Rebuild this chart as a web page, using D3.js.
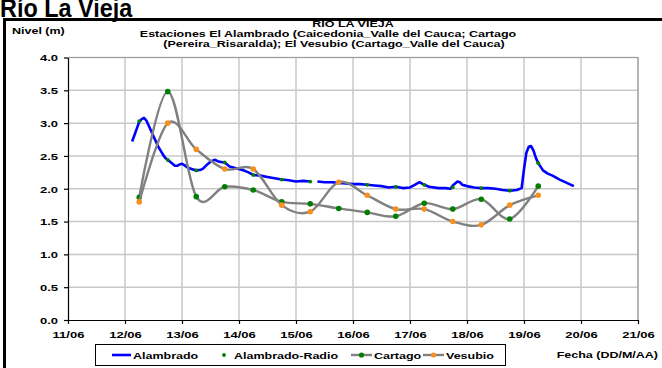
<!DOCTYPE html>
<html><head><meta charset="utf-8">
<script src="https://cdn.jsdelivr.net/npm/d3@7"></script>
<style>
body{margin:0;background:#fff}
svg{display:block}
text{font-family:"Liberation Sans",Arial,sans-serif;font-weight:bold;fill:#000}
</style>
</head><body>
<svg id="c" width="662" height="368"></svg>
<script>
// ---------- data ----------
const xTickLabels = ["11/06","12/06","13/06","14/06","15/06","16/06","17/06","18/06","19/06","20/06","21/06"];
const yTickValues = [0,0.5,1,1.5,2,2.5,3,3.5,4];
const titleLines = ["RIO LA VIEJA","Estaciones El Alambrado (Caicedonia_Valle del Cauca; Cartago","(Pereira_Risaralda);  El Vesubio (Cartago_Valle del Cauca)"];
const seriesNames = ["Alambrado","Alambrado-Radio","Cartago","Vesubio"];

const radioTimes = ["12/06 06:00","12/06 18:00","13/06 06:00","13/06 18:00","14/06 06:00","14/06 18:00","15/06 06:00","15/06 18:00","16/06 06:00","16/06 18:00","17/06 06:00","17/06 18:00","18/06 06:00","18/06 18:00","19/06 06:00"];
const alambradoRadio = [3.03,2.44,2.28,2.40,2.21,2.14,2.11,2.09,2.06,2.03,2.06,2.02,2.01,1.97,2.39];
const cartago = [1.87,3.48,1.88,2.03,1.98,1.80,1.77,1.70,1.64,1.58,1.78,1.69,1.84,1.54,2.04];
const vesubio = [1.80,3.00,2.60,2.30,2.30,1.75,1.65,2.10,1.90,1.69,1.69,1.50,1.45,1.75,1.90];

const alambradoTimes = ["12/06 03:00","12/06 04:00","12/06 05:00","12/06 06:00","12/06 07:00","12/06 08:00","12/06 09:00","12/06 10:00","12/06 11:00","12/06 12:00","12/06 13:00","12/06 14:00","12/06 15:00","12/06 16:00","12/06 17:00","12/06 18:00","12/06 19:00","12/06 20:00","12/06 21:00","12/06 22:00","12/06 23:00",
"13/06 00:00","13/06 01:00","13/06 02:00","13/06 04:00","13/06 06:00","13/06 08:00","13/06 09:00","13/06 10:00","13/06 11:00","13/06 12:00","13/06 13:00","13/06 14:00","13/06 15:00","13/06 16:00","13/06 18:00","13/06 19:00","13/06 20:00","13/06 22:00",
"14/06 00:00","14/06 02:00","14/06 04:00","14/06 06:00","14/06 09:00","14/06 12:00","14/06 15:00","14/06 18:00","14/06 21:00",
"15/06 00:00","15/06 03:00","15/06 06:00","15/06 07:30","15/06 09:00","15/06 12:00","15/06 15:00","15/06 18:00","15/06 21:00",
"16/06 00:00","16/06 03:00","16/06 06:00","16/06 09:00","16/06 12:00","16/06 15:00","16/06 18:00","16/06 21:00",
"17/06 00:00","17/06 02:00","17/06 04:00","17/06 06:00","17/06 08:00","17/06 12:00","17/06 15:00","17/06 17:00","17/06 18:00","17/06 20:00","17/06 21:00","17/06 22:00",
"18/06 00:00","18/06 03:00","18/06 06:00","18/06 09:00","18/06 12:00","18/06 15:00","18/06 18:00","18/06 21:00","18/06 23:00",
"19/06 00:00","19/06 01:00","19/06 02:00","19/06 03:00","19/06 04:00","19/06 05:00","19/06 06:00","19/06 08:00","19/06 10:00","19/06 12:00","19/06 15:00","19/06 18:00","19/06 21:00"];
const alambrado = [2.72,2.82,2.92,3.02,3.06,3.08,3.04,2.96,2.88,2.80,2.72,2.64,2.58,2.52,2.47,2.44,2.41,2.38,2.35,2.35,2.37,
2.38,2.36,2.33,2.30,2.28,2.29,2.31,2.35,2.38,2.41,2.43,2.44,2.42,2.41,2.40,2.37,2.34,2.32,
2.30,2.28,2.25,2.21,2.20,2.18,2.16,2.14,2.13,
2.11,2.12,2.11,null,2.11,2.10,2.10,2.09,2.08,
2.07,2.07,2.06,2.05,2.04,2.02,2.03,2.01,
2.02,2.06,2.10,2.06,2.03,2.01,2.01,2.00,2.05,2.11,2.10,2.06,
2.04,2.02,2.01,2.01,2.00,1.98,1.97,1.98,2.01,
2.30,2.55,2.64,2.65,2.58,2.47,2.39,2.28,2.23,2.20,2.14,2.09,2.04];

// ---------- chart ----------
const svg = d3.select("#c");
const parse = d3.timeParse("%d/%m %H:%M");
const SX = 1.33; // horizontal text stretch of the original picture
const FONT = 9.4;

const x = d3.scaleTime().domain([parse("11/06 00:00"), parse("21/06 00:00")]).range([68, 638]);
const y = d3.scaleLinear().domain([0, 4]).range([320, 57.5]);

function txt(px, py, s, anchor, size) {
  return svg.append("text")
    .attr("transform", `translate(${px},${py}) scale(${SX},1)`)
    .attr("text-anchor", anchor || "start")
    .style("font-size", (size || FONT) + "px")
    .text(s);
}

// outer frame
svg.append("rect").attr("x", 4.5).attr("y", 19.5).attr("width", 662).attr("height", 360)
  .attr("fill", "none").attr("stroke", "#000").attr("stroke-width", 3);

// big title (its top is cut by the picture edge, as in the original)
svg.append("text").attr("transform", "translate(0,17) scale(0.9,1)").style("font-size", "26px").text("Río La Vieja");

// chart title
const titleX = [353, 328, 334];
titleLines.forEach((t, i) => txt(titleX[i], 27 + i * 9.8, t, "middle"));
txt(12, 34, "Nivel (m)", "start");

// grid
const dayTicks = d3.range(11, 22).map(d => parse(String(d).padStart(2, "0") + "/06 00:00"));
svg.append("g").selectAll("line").data(dayTicks.slice(1)).join("line")
  .attr("x1", d => x(d)).attr("x2", d => x(d)).attr("y1", y(4)).attr("y2", y(0))
  .attr("stroke", "#c8c8c8").attr("stroke-width", 1.5);
svg.append("g").selectAll("line").data(yTickValues.slice(1)).join("line")
  .attr("x1", x.range()[0]).attr("x2", x.range()[1]).attr("y1", d => y(d)).attr("y2", d => y(d))
  .attr("stroke", "#c8c8c8").attr("stroke-width", 1.5);

// axes
const xAxis = svg.append("g").attr("transform", `translate(0,${y(0)})`)
  .call(d3.axisBottom(x).tickValues(dayTicks).tickFormat((d, i) => xTickLabels[i]).tickSize(4).tickSizeOuter(0));
const yAxis = svg.append("g").attr("transform", `translate(${x.range()[0]},0)`)
  .call(d3.axisLeft(y).tickValues(yTickValues).tickFormat(d3.format(".1f")).tickSize(4).tickSizeOuter(0));
[xAxis, yAxis].forEach(a => {
  a.select(".domain").attr("stroke", "#000").attr("stroke-width", 1.2);
  a.selectAll(".tick line").attr("stroke", "#000").attr("stroke-width", 1.2);
  a.selectAll(".tick text").attr("fill", "#000").style("font-family", '"Liberation Sans",Arial,sans-serif')
    .style("font-weight", "bold").style("font-size", "9.8px");
});
xAxis.selectAll(".tick text").attr("y", 0).attr("dy", 0)
  .attr("transform", `translate(0,18) scale(${SX},1)`);
yAxis.selectAll(".tick text").attr("x", 0).attr("dy", "0.34em")
  .attr("transform", `translate(-10,0) scale(${SX},1)`);

// series
const radioData = radioTimes.map((t, i) => ({t: parse(t), a: alambradoRadio[i], c: cartago[i], v: vesubio[i]}));
const alamData = alambradoTimes.map((t, i) => ({t: parse(t), v: alambrado[i]}));

svg.append("path").datum(alamData)
  .attr("d", d3.line().defined(d => d.v != null).x(d => x(d.t)).y(d => y(d.v)))
  .attr("fill", "none").attr("stroke", "#0000ff").attr("stroke-width", 2.6).attr("stroke-linejoin", "round");

svg.append("g").selectAll("circle").data(radioData).join("circle")
  .attr("cx", d => x(d.t)).attr("cy", d => y(d.a)).attr("r", 1.9).attr("fill", "#008000");

const smooth = d3.line().curve(d3.curveCatmullRom.alpha(0)).x(d => x(d.t));
const GREEN = "#008000", ORANGE = "#f7901e", GRAY = "#808080";

svg.append("path").attr("d", smooth.y(d => y(d.c))(radioData))
  .attr("fill", "none").attr("stroke", GRAY).attr("stroke-width", 2.4);
svg.append("g").selectAll("circle").data(radioData).join("circle")
  .attr("cx", d => x(d.t)).attr("cy", d => y(d.c)).attr("r", 2.8).attr("fill", GREEN);

svg.append("path").attr("d", smooth.y(d => y(d.v))(radioData))
  .attr("fill", "none").attr("stroke", GRAY).attr("stroke-width", 2.4);
svg.append("g").selectAll("circle").data(radioData).join("circle")
  .attr("cx", d => x(d.t)).attr("cy", d => y(d.v)).attr("r", 2.8).attr("fill", ORANGE);

// plot border (top/right)
svg.append("path").attr("d", `M${x.range()[0]},${y(4)}H${x.range()[1]}V${y(0)}`)
  .attr("fill", "none").attr("stroke", "#a0a0a0").attr("stroke-width", 1.2);

// legend
const lg = svg.append("g");
lg.append("rect").attr("x", 95.5).attr("y", 344.5).attr("width", 410).attr("height", 21)
  .attr("fill", "#fff").attr("stroke", "#000").attr("stroke-width", 1);
const ly = 355, lty = 359;
lg.append("line").attr("x1", 112).attr("x2", 131).attr("y1", ly).attr("y2", ly).attr("stroke", "#0000ff").attr("stroke-width", 2.6);
txt(133, lty, seriesNames[0]);
lg.append("circle").attr("cx", 224).attr("cy", ly).attr("r", 1.9).attr("fill", GREEN);
txt(234, lty, seriesNames[1]);
lg.append("line").attr("x1", 351).attr("x2", 372).attr("y1", ly).attr("y2", ly).attr("stroke", GRAY).attr("stroke-width", 2.4);
lg.append("circle").attr("cx", 361.5).attr("cy", ly).attr("r", 2.6).attr("fill", GREEN);
txt(374, lty, seriesNames[2]);
lg.append("line").attr("x1", 423).attr("x2", 444).attr("y1", ly).attr("y2", ly).attr("stroke", GRAY).attr("stroke-width", 2.4);
lg.append("circle").attr("cx", 433.5).attr("cy", ly).attr("r", 2.6).attr("fill", ORANGE);
txt(446, lty, seriesNames[3]);

txt(658, 358, "Fecha (DD/M/AA)", "end");
</script>
</body></html>
